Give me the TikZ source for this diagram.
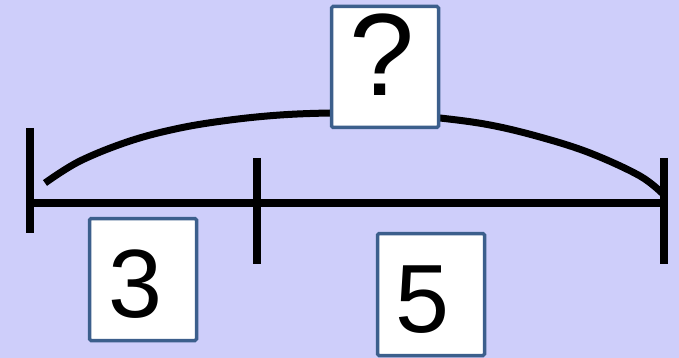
\documentclass[tikz,border=0pt]{standalone}
\usepackage{fontspec}
\setmainfont{Liberation Sans}
\definecolor{bgc}{RGB}{206,206,250}
\definecolor{boxc}{RGB}{60,95,140}
\begin{document}
\begin{tikzpicture}[x=1pt,y=-1pt,
  numline/.style={line width=7.5pt,black},
  answerbox/.style={draw=boxc,line width=3.5pt,fill=white,rounded corners=1.5pt,inner sep=0pt},
  digit/.style={font=\fontsize{97}{97}\selectfont,inner sep=0pt},
  qmark/.style={font=\fontsize{117}{117}\selectfont,inner sep=0pt}]
\fill[bgc] (0,0) rectangle (679,358);
\useasboundingbox (0,0) rectangle (679,358);
% ticks
\coordinate (L) at (30,203);
\coordinate (R) at (664,203);
\coordinate (lt) at (30,128);
\coordinate (lb) at (30,233);
\coordinate (mt) at (257,158);
\coordinate (mb) at (257,264);
\coordinate (rt) at (664,158);
\coordinate (rb) at (664,264);
\draw[numline] (L) -- (R);
\draw[numline] (lt) -- (lb);
\draw[numline] (mt) -- (mb);
\draw[numline] (rt) -- (rb);
% arc
\draw[numline,line width=7pt] plot[smooth,tension=0.6] coordinates
  {(45,183) (80,161) (130,141) (180,128) (230,120) (280,115) (330,113) (385,113) (440,118) (490,125) (540,137) (590,153) (640,176) (664,195)};
% boxes
\node[answerbox,minimum width=107pt,minimum height=121pt] (qbox) at (385,67) {};
\node[qmark] (q) at (382,55) {?};
\node[answerbox,minimum width=107pt,minimum height=122pt] (b3) at (143,279.5) {};
\node[digit] (t3) at (135,284) {3};
\node[answerbox,minimum width=107pt,minimum height=122pt] (b5) at (431,294.5) {};
\node[digit] (t5) at (422,300) {5};
\end{tikzpicture}
\end{document}
